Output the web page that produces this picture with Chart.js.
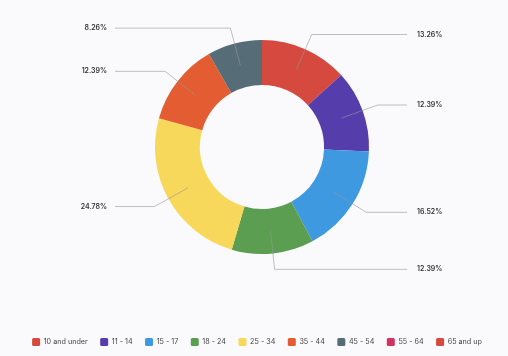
<!DOCTYPE html>
<html>
<head>
<meta charset="utf-8">
<script src="https://cdn.jsdelivr.net/npm/chart.js@4/dist/chart.umd.min.js"></script>
<style>
html,body{margin:0;padding:0;background:#fafafc;}
#wrap{width:508px;height:356px;position:relative;}
</style>
</head>
<body>
<div id="wrap"><canvas id="c" width="508" height="356"></canvas></div>
<script>
const categories = ['10 and under','11 - 14','15 - 17','18 - 24','25 - 34','35 - 44','45 - 54','55 - 64','65 and up'];
const shares = [13.26, 12.39, 16.52, 12.39, 24.78, 12.39, 8.26, 0, 0];
const colors = ['#d5493e','#553dab','#3e99e0','#5b9e51','#f8d85b','#e35c32','#566d78','#d2325f','#d5493e'];

const oneRowLegend = {
  id: 'oneRowLegend',
  beforeLayout(chart) {
    const lg = chart.legend;
    if (!lg || lg.__patched) return;
    const origFit = lg._fitRows;
    lg._fitRows = function(...args) {
      const mw = this.maxWidth;
      this.maxWidth = 9999;
      const r = origFit.apply(this, args);
      this.maxWidth = mw;
      return r;
    };
    const origDraw = lg._draw;
    lg._draw = function(...args) {
      const l = this.left, r = this.right;
      this.left = l - 50;
      this.right = r + 40;
      const res = origDraw.apply(this, args);
      this.left = l;
      this.right = r;
      return res;
    };
    lg.__patched = true;
  }
};

const calloutPlugin = {
  id: 'callouts',
  afterDatasetsDraw(chart) {
    const ctx = chart.ctx;
    const meta = chart.getDatasetMeta(0);
    ctx.save();
    meta.data.forEach((arc, i) => {
      const v = shares[i];
      if (!v) return;
      const p = arc.getProps(['x','y','startAngle','endAngle','innerRadius','outerRadius'], true);
      const mid = (p.startAngle + p.endAngle) / 2;
      const rMid = (p.innerRadius + p.outerRadius) / 2;
      const rEl = p.outerRadius + 16;
      const sx = p.x + Math.cos(mid) * rMid, sy = p.y + Math.sin(mid) * rMid;
      const ex = p.x + Math.cos(mid) * rEl, ey = p.y + Math.sin(mid) * rEl;
      const right = Math.cos(mid) >= 0;
      const hx = right ? p.x + 145 : p.x - 147;
      ctx.beginPath();
      ctx.strokeStyle = 'rgba(150,150,150,0.6)';
      ctx.lineWidth = 1;
      ctx.moveTo(sx, sy);
      ctx.lineTo(ex, ey);
      ctx.lineTo(hx, ey);
      ctx.stroke();
      ctx.fillStyle = '#333';
      ctx.font = '600 7px Inter, "Liberation Sans", sans-serif';
      ctx.textBaseline = 'middle';
      ctx.textAlign = right ? 'left' : 'right';
      ctx.fillText(v.toFixed(2) + '%', right ? hx + 10 : hx - 8, ey);
    });
    ctx.restore();
  }
};

new Chart(document.getElementById('c'), {
  type: 'doughnut',
  data: {
    labels: categories,
    datasets: [{
      data: shares,
      backgroundColor: colors,
      borderWidth: 0
    }]
  },
  options: {
    responsive: false,
    animation: false,
    cutout: '58%',
    layout: { padding: { top: 40, bottom: 0, left: 16, right: 0 } },
    plugins: {
      tooltip: { enabled: false },
      legend: {
        position: 'bottom',
        title: {
          display: true,
          text: ' ',
          font: { size: 10, lineHeight: 1 },
          padding: { top: 61.5, bottom: 0 }
        },
        labels: {
          boxWidth: 8,
          boxHeight: 8,
          useBorderRadius: true,
          borderRadius: 1.5,
          padding: 12.5,
          color: '#444',
          font: { family: 'Inter, "Liberation Sans", sans-serif', size: 7.2 }
        }
      }
    }
  },
  plugins: [oneRowLegend, calloutPlugin]
});
</script>
</body>
</html>
